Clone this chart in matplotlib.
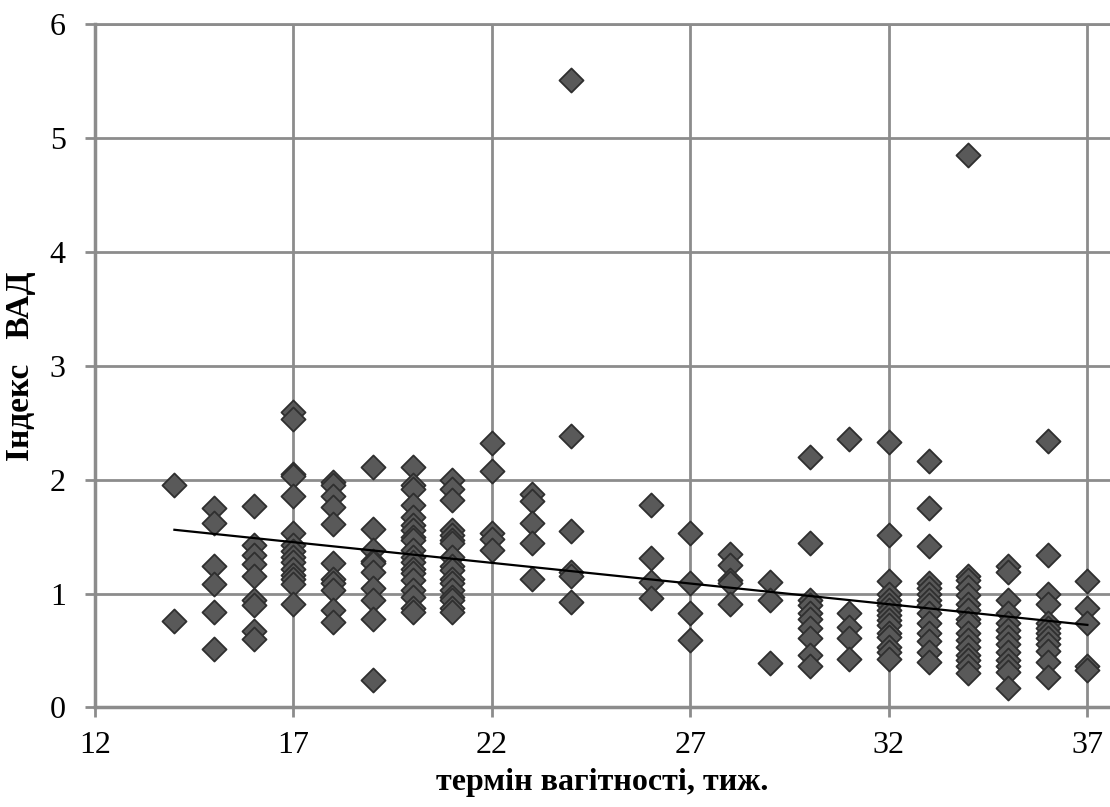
import numpy as np
import matplotlib.pyplot as plt

# gestational week -> index values
weeks = [14, 15, 16, 17, 18, 19, 20, 21, 22, 23, 24, 26, 27, 28,
         29, 30, 31, 32, 33, 34, 35, 36, 37]
values = [
    [1.95, 0.76],
    [1.75, 1.62, 1.24, 1.08, 0.84, 0.51],
    [1.77, 1.43, 1.34, 1.26, 1.15, 0.94, 0.90, 0.67, 0.60],
    [2.59, 2.53, 2.05, 2.03, 1.86, 1.53, 1.43, 1.37, 1.32, 1.28, 1.22, 1.16, 1.13, 1.08, 0.91],
    [1.98, 1.95, 1.86, 1.76, 1.61, 1.27, 1.13, 1.09, 1.03, 0.86, 0.75],
    [2.11, 1.57, 1.38, 1.29, 1.27, 1.19, 1.05, 0.94, 0.78, 0.24],
    [2.11, 1.95, 1.92, 1.78, 1.67, 1.60, 1.56, 1.50, 1.47, 1.38, 1.32, 1.28, 1.22, 1.18,
     1.12, 1.03, 0.97, 0.87, 0.84],
    [2.00, 1.92, 1.82, 1.56, 1.51, 1.47, 1.44, 1.32, 1.24, 1.21, 1.13, 1.09, 1.03, 0.97,
     0.94, 0.87, 0.84],
    [2.32, 2.08, 1.53, 1.48, 1.38],
    [1.87, 1.81, 1.62, 1.44, 1.13],
    [5.51, 2.38, 1.55, 1.19, 1.15, 0.93],
    [1.78, 1.31, 1.10, 0.96],
    [1.53, 1.09, 0.83, 0.59],
    [1.35, 1.25, 1.12, 1.09, 0.91],
    [1.10, 0.94, 0.39],
    [2.20, 1.44, 0.94, 0.90, 0.83, 0.78, 0.70, 0.61, 0.46, 0.36],
    [2.36, 0.83, 0.71, 0.61, 0.43],
    [2.33, 1.51, 1.11, 1.00, 0.94, 0.90, 0.86, 0.81, 0.77, 0.72, 0.65, 0.62, 0.53, 0.49, 0.43],
    [2.16, 1.75, 1.42, 1.09, 1.05, 1.00, 0.94, 0.90, 0.83, 0.74, 0.65, 0.58, 0.49, 0.40],
    [4.85, 1.15, 1.12, 1.06, 0.99, 0.91, 0.86, 0.78, 0.74, 0.65, 0.59, 0.53, 0.46, 0.42, 0.36, 0.30],
    [1.24, 1.19, 0.94, 0.83, 0.74, 0.68, 0.62, 0.56, 0.49, 0.42, 0.36, 0.31, 0.17],
    [2.34, 1.34, 1.00, 0.91, 0.74, 0.70, 0.65, 0.61, 0.56, 0.50, 0.40, 0.27],
    [1.11, 0.87, 0.74, 0.36, 0.33],
]

# linear trend line, end points
trend_x = [14, 37]
trend_y = [1.56, 0.725]

x = np.concatenate([[w] * len(v) for w, v in zip(weeks, values)]).astype(float)
y = np.concatenate(values)

plt.rcParams['font.family'] = ['Liberation Serif', 'DejaVu Serif']

fig = plt.figure(figsize=(11.10, 8.07), dpi=100)
ax = fig.add_axes([0.0856, 0.1233, 0.9144, 0.847])

ax.scatter(x, y, marker="D", s=150, color="#595959", edgecolor="#2f2f2f",
           linewidth=1.3, zorder=3)
ax.plot(trend_x, trend_y, color="black", lw=1.6, zorder=4)

ax.set_xlim(12, 37.57)
ax.set_ylim(0, 6)
ax.set_xticks([12, 17, 22, 27, 32, 37])
ax.set_yticks(range(7))
ax.grid(True, color="#8c8c8c", lw=2)
ax.set_axisbelow(True)
for side in ["left", "bottom", "top"]:
    ax.spines[side].set_color("#8c8c8c")
    ax.spines[side].set_linewidth(2.5)
ax.spines["right"].set_visible(False)
ax.spines["top"].set_linewidth(2)
ax.tick_params(direction="out", length=7, width=2, color="#8c8c8c", labelsize=23)
ax.tick_params(axis="x", pad=10)
ax.tick_params(axis="y", pad=14)

ax.set_xlabel("термін вагітності, тиж.", fontsize=23, fontweight="bold", labelpad=6)
ax.set_ylabel("Індекс   ВАД", fontsize=24, fontweight="bold", labelpad=10)

fig.savefig("out.png", dpi=100)
